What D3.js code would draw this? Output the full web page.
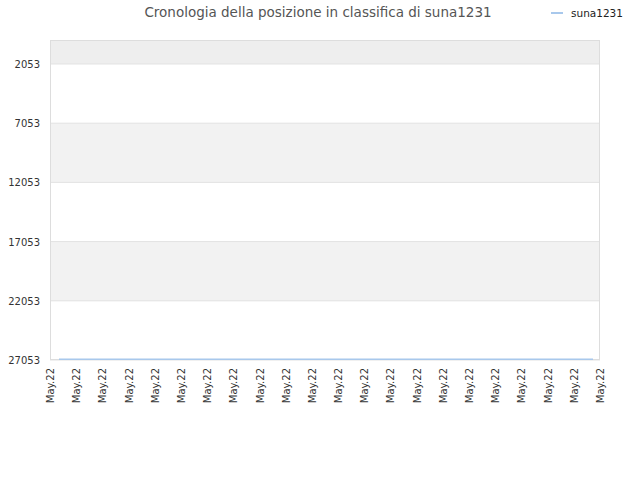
<!DOCTYPE html>
<html>
<head>
<meta charset="utf-8">
<script src="https://d3js.org/d3.v7.min.js"></script>
<style>
body{margin:0;background:#fff;}
text{font-family:"DejaVu Sans",sans-serif;}
</style>
</head>
<body>
<div id="chart"></div>
<script>
var title="Cronologia della posizione in classifica di suna1231";
var seriesName="suna1231";
var dates=["May.22","May.22","May.22","May.22","May.22","May.22","May.22","May.22","May.22","May.22","May.22",
"May.22","May.22","May.22","May.22","May.22","May.22","May.22","May.22","May.22","May.22","May.22"];
var yTicks=[2053,7053,12053,17053,22053,27053];
var ranks=[27000,27000,27000,27000,27000,27000,27000,27000,27000,27000,27000,
27000,27000,27000,27000,27000,27000,27000,27000,27000,27000];

var width=640,height=480;
var margin={top:40,left:50,right:40,bottom:120};
var svg=d3.select("#chart").append("svg").attr("width",width).attr("height",height);

var y=d3.scaleLinear().domain([26,27053]).range([margin.top,height-margin.bottom]);
var x=d3.scalePoint().domain(d3.range(dates.length)).range([margin.left,width-margin.right]);
var xLine=d3.scaleLinear().domain([0,ranks.length-1]).range([59,593]);

// bands
var bands=[[26,2053]];
for(var i=0;i<yTicks.length-1;i++) bands.push([yTicks[i],yTicks[i+1]]);
svg.selectAll("rect.band").data(bands).enter().append("rect")
.attr("x",margin.left)
.attr("y",d=>y(d[0]))
.attr("width",width-margin.right-margin.left)
.attr("height",d=>y(d[1])-y(d[0]))
.attr("fill",(d,i)=>i==0?"#eeeeee":(i%2==0?"#f2f2f2":"#ffffff"));

svg.selectAll("line.grid").data(yTicks).enter().append("line")
.attr("x1",margin.left).attr("x2",width-margin.right)
.attr("y1",d=>y(d)).attr("y2",d=>y(d))
.attr("stroke","#e2e2e2");

svg.append("rect")
.attr("x",margin.left+0.5).attr("y",margin.top+0.5)
.attr("width",width-margin.right-margin.left-1)
.attr("height",height-margin.bottom-margin.top-1)
.attr("fill","none").attr("stroke","#dddddd");

svg.selectAll("text.ytick").data(yTicks).enter().append("text")
.attr("x",margin.left-10).attr("y",d=>y(d)+4)
.attr("text-anchor","end").attr("font-size","10px").attr("fill","#333")
.text(d=>d);

svg.selectAll("text.xtick").data(dates).enter().append("text")
.attr("transform",(d,i)=>"translate("+(x(i)+4)+","+(height-margin.bottom+8)+") rotate(-90)")
.attr("text-anchor","end").attr("font-size","10px").attr("fill","#333")
.text(d=>d);

var line=d3.line().x((d,i)=>xLine(i)).y(d=>y(d));
svg.append("path").datum(ranks)
.attr("d",line).attr("fill","none").attr("stroke","#a8c8ec").attr("stroke-width",1.5);

svg.append("text").attr("x",318).attr("y",17)
.attr("text-anchor","middle").attr("font-size","13.5px").attr("fill","#555")
.text(title);

svg.append("line").attr("x1",551).attr("x2",563).attr("y1",13).attr("y2",13)
.attr("stroke","#a8c8ec").attr("stroke-width",2);
svg.append("text").attr("x",571).attr("y",17)
.attr("font-size","10.5px").attr("fill","#222").text(seriesName);
</script>
</body>
</html>
